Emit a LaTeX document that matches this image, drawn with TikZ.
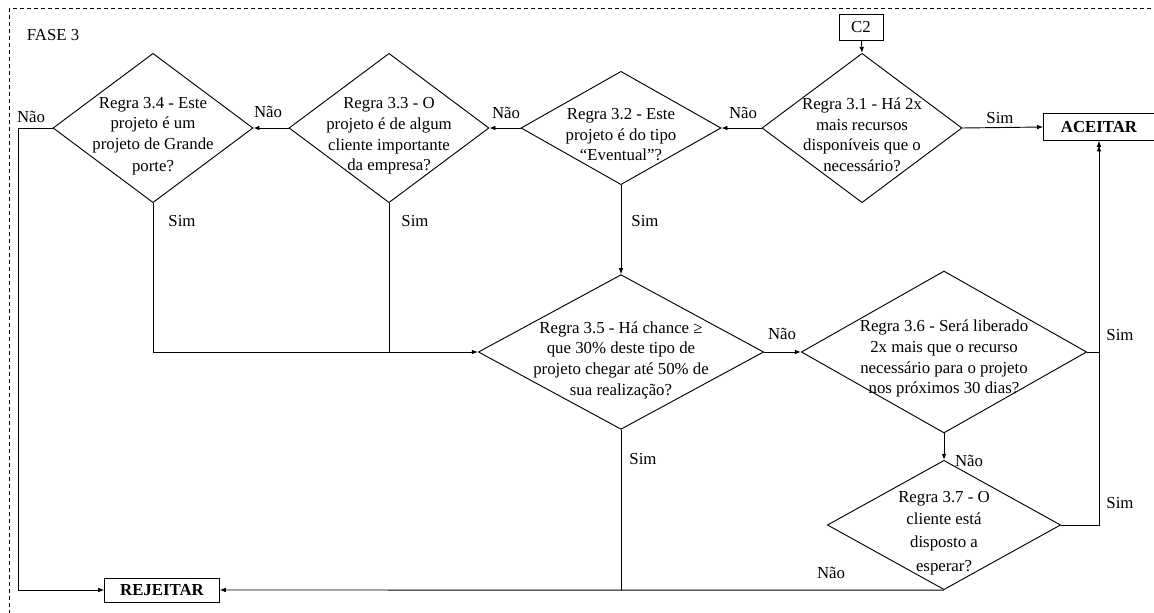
\documentclass[tikz,border=0pt]{standalone}
\usepackage{fontspec}
\setmainfont{Liberation Serif}
\usetikzlibrary{shapes.geometric, arrows.meta}

\begin{document}
\begin{tikzpicture}[x=0.75pt, y=-0.75pt, line width=0.7pt,
    font=\fontsize{12.6}{15.5}\selectfont, >={Latex[length=4.5pt,width=3.5pt]},
    dec/.style={draw, diamond, inner sep=0pt},
    rtxt/.style={align=center, yshift=-6pt},
    term/.style={draw, inner sep=0pt, minimum height=19pt, font=\fontsize{12.6}{15.5}\selectfont\bfseries},
    lbl/.style={inner sep=1pt}
]
    \useasboundingbox (0,0) rectangle (1154,613);
    \clip (0,0) rectangle (1154,613);
    \draw[line width=0.6pt, dash pattern=on 3pt off 2.25pt] (9,8) rectangle (1180,640);
    \node[lbl] (fase) at (53,35) {FASE 3};

    % regras
    \node[dec, minimum width=150pt, minimum height=112pt,
        label={[rtxt, yshift=1pt]center:{Regra 3.1 - Há 2x\\mais recursos\\disponíveis que o\\necessário?}}] (r31) at (862,128) {};
    \node[dec, minimum width=150pt, minimum height=85pt,
        label={[rtxt, yshift=1pt]center:{Regra 3.2 - Este\\projeto é do tipo\\“Eventual”?}}] (r32) at (621,128) {};
    \node[dec, minimum width=150pt, minimum height=112pt,
        label={[rtxt]center:{Regra 3.3 - O\\projeto é de algum\\cliente importante\\da empresa?}}] (r33) at (389,128) {};
    \node[dec, minimum width=150pt, minimum height=112pt,
        label={[rtxt]center:{Regra 3.4 - Este\\projeto é um\\projeto de Grande\\[1pt]porte?}}] (r34) at (153,128) {};
    \node[dec, minimum width=214pt, minimum height=116pt,
        label={[rtxt]center:{Regra 3.5 - Há chance ≥\\que 30\% deste tipo de\\projeto chegar até 50\% de\\sua realização?}}] (r35) at (621,352) {};
    \node[dec, minimum width=214pt, minimum height=121.5pt,
        label={[rtxt, yshift=1pt]center:{Regra 3.6 - Será liberado\\2x mais que o recurso\\necessário para o projeto\\nos próximos 30 dias?}}] (r36) at (944,352) {};
    \node[dec, minimum width=175pt, minimum height=97pt,
        label={[rtxt]center:{Regra 3.7 - O\\[1.5pt]cliente está\\[1.5pt]disposto a\\[2.5pt]esperar?}}] (r37) at (944,525) {};

    \node[draw, minimum width=33pt, minimum height=19.5pt, inner sep=0pt] (c2) at (861,27) {C2};
    \node[term, minimum width=83pt, minimum height=20pt] (aceitar) at (1099,127) {ACEITAR};
    \node[term, minimum width=86pt, minimum height=18pt] (rejeitar) at (162,590) {REJEITAR};
    \coordinate (k1) at (18,128);

    \draw[->] (c2) -- (r31.north);
    \draw[->] (r31.east) -- (aceitar.west);
    \draw[->] (r31.west) -- (r32.east);
    \draw[->] (r32.west) -- (r33.east);
    \draw[->] (r33.west) -- (r34.east);
    \draw[->] (r34.west) -- (k1) |- (rejeitar.west);
    \draw[->] (r34.south) |- (r35.west);
    \draw (r33.south) -- (r33.south |- r35.west);
    \draw[->] (r32.south) -- (r35.north);
    \draw[->] (r35.east) -- (r36.west);
    \draw[->] (r36.south) -- (r37.north);
    \draw[->] (r36.east) -| (aceitar.south);
    \draw[->, shorten >=3.5pt] (r37.east) -| (aceitar.south);
    \draw[->] (r37.south) -- (rejeitar.east);
    \draw (r35.south) -- (r35.south |- rejeitar.east);

    % rotulos
    \node[lbl] (l1) at (31,117) {Não};
    \node[lbl] (l2) at (268,112) {Não};
    \node[lbl] (l3) at (506,113) {Não};
    \node[lbl] (l4) at (743,113) {Não};
    \node[lbl] (l5) at (1000,118) {Sim};
    \node[lbl] (l6) at (182,221) {Sim};
    \node[lbl] (l7) at (415,221) {Sim};
    \node[lbl] (l8) at (645,221) {Sim};
    \node[lbl] (l9) at (782,334) {Não};
    \node[lbl] (l10) at (643,459) {Sim};
    \node[lbl] (l11) at (831,573) {Não};
    \node[lbl] (l12) at (969,461) {Não};
    \node[lbl] (l13) at (1120,335) {Sim};
    \node[lbl] (l14) at (1120,503) {Sim};
\end{tikzpicture}
\end{document}
